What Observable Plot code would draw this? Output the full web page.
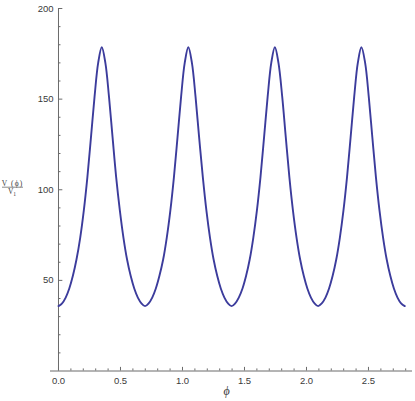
<!DOCTYPE html>
<html>
<head>
<meta charset="utf-8">
<script src="https://cdn.jsdelivr.net/npm/d3@7"></script>
<script src="https://cdn.jsdelivr.net/npm/@observablehq/plot@0.6"></script>
<style>
  html, body { margin: 0; padding: 0; background: #fff; }
  #chart svg { display: block; }
</style>
</head>
<body>
<div id="chart"></div>
<script>
// φ sample positions
const phi = [
  0, 0.029, 0.058, 0.087, 0.116, 0.145, 0.175, 0.204, 0.233, 0.262, 0.291, 0.320,
  0.349, 0.378, 0.407, 0.436, 0.465, 0.495, 0.524, 0.553, 0.582, 0.611, 0.640, 0.669,
  0.698, 0.727, 0.756, 0.785, 0.814, 0.844, 0.873, 0.902, 0.931, 0.960, 0.989, 1.018,
  1.047, 1.076, 1.105, 1.134, 1.164, 1.193, 1.222, 1.251, 1.280, 1.309, 1.338, 1.367,
  1.396, 1.425, 1.454, 1.484, 1.513, 1.542, 1.571, 1.600, 1.629, 1.658, 1.687, 1.716,
  1.745, 1.774, 1.804, 1.833, 1.862, 1.891, 1.920, 1.949, 1.978, 2.007, 2.036, 2.065,
  2.094, 2.123, 2.153, 2.182, 2.211, 2.240, 2.269, 2.298, 2.327, 2.356, 2.385, 2.414,
  2.443, 2.473, 2.502, 2.531, 2.560, 2.589, 2.618, 2.647, 2.676, 2.705, 2.734, 2.763,
  2.793
];
// V(φ)/V1 values read at those positions
const ratio = [
  35.8, 37.3, 40.5, 45.5, 52.5, 61.5, 73.5, 88.5, 107, 129, 151.5, 170,
  178.6, 170, 151.5, 129, 107, 88.5, 73.5, 61.5, 52.5, 45.5, 40.5, 37.3,
  35.8, 37.3, 40.5, 45.5, 52.5, 61.5, 73.5, 88.5, 107, 129, 151.5, 170,
  178.6, 170, 151.5, 129, 107, 88.5, 73.5, 61.5, 52.5, 45.5, 40.5, 37.3,
  35.8, 37.3, 40.5, 45.5, 52.5, 61.5, 73.5, 88.5, 107, 129, 151.5, 170,
  178.6, 170, 151.5, 129, 107, 88.5, 73.5, 61.5, 52.5, 45.5, 40.5, 37.3,
  35.8, 37.3, 40.5, 45.5, 52.5, 61.5, 73.5, 88.5, 107, 129, 151.5, 170,
  178.6, 170, 151.5, 129, 107, 88.5, 73.5, 61.5, 52.5, 45.5, 40.5, 37.3,
  35.8
];
const xTickLabels = [0.0, 0.5, 1.0, 1.5, 2.0, 2.5];
const xMinorTicks = [0.1,0.2,0.3,0.4,0.6,0.7,0.8,0.9,1.1,1.2,1.3,1.4,1.6,1.7,1.8,1.9,2.1,2.2,2.3,2.4,2.6,2.7,2.8];
const yTickLabels = [50, 100, 150, 200];
const yMinorTicks = [10,20,30,40,60,70,80,90,110,120,130,140,160,170,180,190];

const data = phi.map((p, i) => ({phi: p, v: ratio[i]}));

const axisColor = "#6b6b6b";
const textColor = "#3a3a3a";
const font = "'Liberation Sans', Arial, sans-serif";

const chart = Plot.plot({
  width: 415,
  height: 401,
  marginLeft: 50,
  marginRight: 3,
  marginTop: 8,
  marginBottom: 30.5,
  style: {fontFamily: font, fontSize: "9.5px", background: "#fff"},
  x: {domain: [-0.0645, 2.855], axis: null},
  y: {domain: [0, 200], axis: null},
  marks: [
    // axes lines
    Plot.ruleY([0], {stroke: axisColor, strokeWidth: 1}),
    Plot.ruleX([0], {y1: 0, y2: 200, stroke: axisColor, strokeWidth: 1}),
    // y ticks (inward)
    Plot.ruleY(yTickLabels, {x1: 0, x2: 0.035, stroke: axisColor}),
    Plot.ruleY(yMinorTicks, {x1: 0, x2: 0.02, stroke: axisColor}),
    // x ticks (inward)
    Plot.ruleX(xTickLabels, {y1: 0, y2: 2.0, stroke: axisColor}),
    Plot.ruleX(xMinorTicks, {y1: 0, y2: 1.15, stroke: axisColor}),
    // tick labels
    Plot.text(yTickLabels, {x: 0, y: d => d, text: d => String(d), dx: -5, textAnchor: "end", fill: textColor, fontSize: 9.5}),
    Plot.text(xTickLabels, {x: d => d, y: 0, text: d => d.toFixed(1), dy: 10, fill: textColor, fontSize: 9.5}),
    // curve
    Plot.line(data, {x: "phi", y: "v", stroke: "#3c3c9c", strokeWidth: 1.9, curve: "catmull-rom"}),
    // x axis label
    Plot.text(["ϕ"], {frameAnchor: "bottom", dx: -5, dy: 24, fontStyle: "italic", fontFamily: "'Liberation Serif', serif", fontSize: 12, fill: textColor})
  ]
});

// y axis label: V(ϕ) / V1 fraction
const svg = d3.select(chart);
const g = svg.append("g").attr("fill", textColor).attr("font-family", "'Liberation Serif', 'DejaVu Serif', serif");
g.append("text").attr("x", 12.5).attr("y", 185.5).attr("text-anchor", "middle").attr("font-size", 7.5)
  .attr("letter-spacing", 1.1)
  .text("V (ϕ)");
g.append("line").attr("x1", 2).attr("x2", 23).attr("y1", 187.2).attr("y2", 187.2)
  .attr("stroke", textColor).attr("stroke-width", 0.6);
const den = g.append("text").attr("x", 12).attr("y", 194).attr("text-anchor", "middle").attr("font-size", 7.5);
den.append("tspan").text("V");
den.append("tspan").attr("font-size", 5.5).attr("dy", 1.5).text("1");

document.getElementById("chart").appendChild(chart);
</script>
</body>
</html>
